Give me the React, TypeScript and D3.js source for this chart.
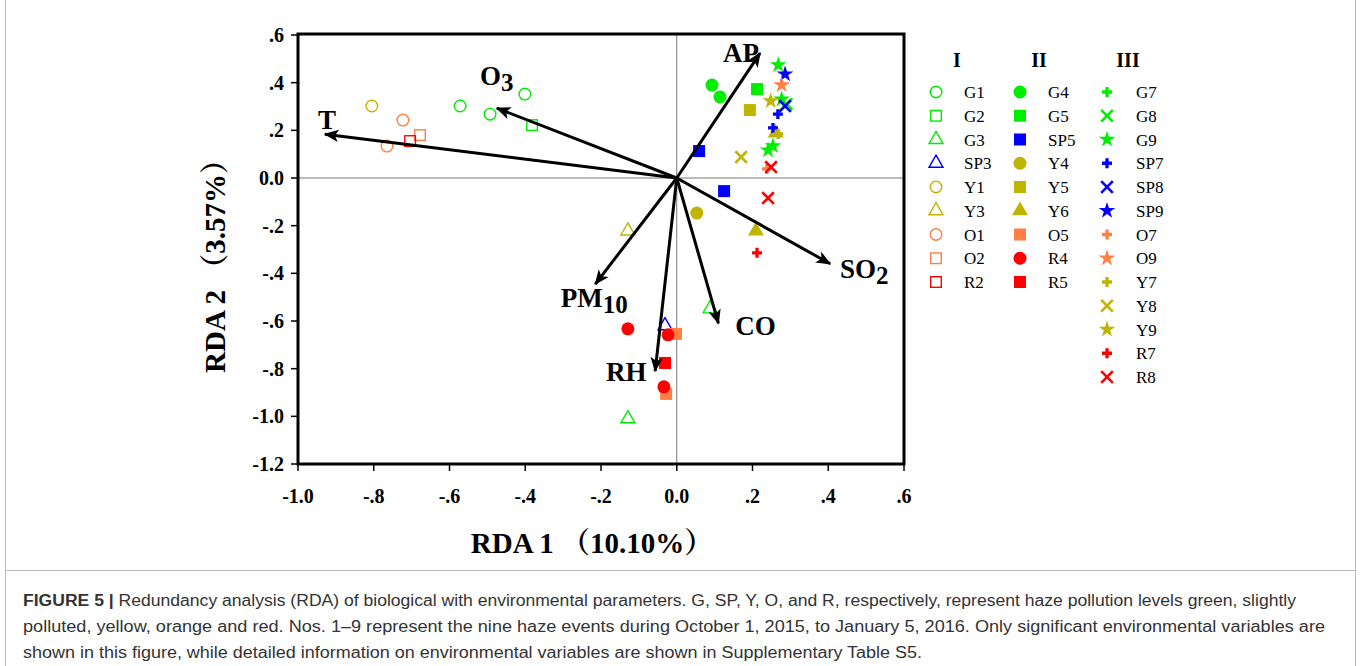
import React from "react";
import * as d3 from "d3";

// ---------- Data ----------
const xTicks = [-1.0, -0.8, -0.6, -0.4, -0.2, 0.0, 0.2, 0.4, 0.6];
const yTicks = [0.6, 0.4, 0.2, 0.0, -0.2, -0.4, -0.6, -0.8, -1.0, -1.2];
const xTickLabels = ["-1.0", "-.8", "-.6", "-.4", "-.2", "0.0", ".2", ".4", ".6"];
const yTickLabels = [".6", ".4", ".2", "0.0", "-.2", "-.4", "-.6", "-.8", "-1.0", "-1.2"];

// Environmental vectors (RDA1, RDA2)
const envNames = ["AP", "O3", "T", "SO2", "PM10", "CO", "RH"];
const envX = [0.22, -0.475, -0.929, 0.405, -0.215, 0.11, -0.057];
const envY = [0.524, 0.293, 0.184, -0.36, -0.445, -0.61, -0.81];

// Sample scores
const G1 = [[-0.572, 0.302], [-0.493, 0.268], [-0.401, 0.352]];
const G2 = [[-0.382, 0.222]];
const G3 = [[-0.129, -1.01], [0.088, -0.549]];
const SP3 = [[-0.031, -0.62]];
const Y1 = [[-0.805, 0.302]];
const Y3 = [[-0.129, -0.222]];
const O1 = [[-0.723, 0.243], [-0.765, 0.134]];
const O2 = [[-0.678, 0.18]];
const R2 = [[-0.704, 0.155]];
const G4 = [[0.093, 0.39], [0.114, 0.34]];
const G5 = [[0.212, 0.373]];
const SP5 = [[0.059, 0.113], [0.125, -0.055]];
const Y4 = [[0.053, -0.147]];
const Y5 = [[0.193, 0.285]];
const Y6 = [[0.209, -0.222], [0.261, 0.189]];
const O5 = [[-0.002, -0.654], [-0.028, -0.906]];
const R4 = [[-0.129, -0.633], [-0.023, -0.658], [-0.034, -0.876]];
const R5 = [[-0.031, -0.776]];
const G7 = [] as number[][];
const G8 = [[0.29, 0.31]];
const G9 = [[0.268, 0.474], [0.277, 0.331], [0.254, 0.134], [0.241, 0.117]];
const SP7 = [[0.267, 0.268], [0.254, 0.21]];
const SP8 = [[0.286, 0.302]];
const SP9 = [[0.286, 0.436]];
const O7 = [[0.238, 0.038]];
const O9 = [[0.277, 0.39]];
const Y7 = [[0.268, 0.185]];
const Y8 = [[0.17, 0.088]];
const Y9 = [[0.248, 0.323]];
const R7 = [[0.212, -0.314]];
const R8 = [[0.249, 0.046], [0.241, -0.084]];

const groupHeaders = ["I", "II", "III"];
const groupI = ["G1", "G2", "G3", "SP3", "Y1", "Y3", "O1", "O2", "R2"];
const groupII = ["G4", "G5", "SP5", "Y4", "Y5", "Y6", "O5", "R4", "R5"];
const groupIII = ["G7", "G8", "G9", "SP7", "SP8", "SP9", "O7", "O9", "Y7", "Y8", "Y9", "R7", "R8"];

const samplePoints: Record<string, number[][]> = {
  G1, G2, G3, SP3, Y1, Y3, O1, O2, R2, G4, G5, SP5, Y4, Y5, Y6, O5, R4, R5,
  G7, G8, G9, SP7, SP8, SP9, O7, O9, Y7, Y8, Y9, R7, R8,
};

const captionLines = [
  "Redundancy analysis (RDA) of biological with environmental parameters. G, SP, Y, O, and R, respectively, represent haze pollution levels green, slightly",
  "polluted, yellow, orange and red. Nos. 1–9 represent the nine haze events during October 1, 2015, to January 5, 2016. Only significant environmental variables are",
  "shown in this figure, while detailed information on environmental variables are shown in Supplementary Table S5.",
];

// ---------- Styles ----------
const COLORS: Record<string, string> = {
  G: "#00ee00",
  SP: "#0000ff",
  Y: "#bfb400",
  O: "#ff7f45",
  R: "#ff0000",
};
const colorOf = (name: string) => COLORS[name.replace(/[0-9]/g, "")];
const shapeOf = (name: string): [string, boolean] => {
  if (groupI.includes(name)) {
    const i = groupI.indexOf(name);
    const s = ["circle", "square", "triangle", "triangle", "circle", "triangle", "circle", "square", "square"][i];
    return [s, false];
  }
  if (groupII.includes(name)) {
    const i = groupII.indexOf(name);
    const s = ["circle", "square", "square", "circle", "square", "triangle", "square", "circle", "square"][i];
    return [s, true];
  }
  const i = groupIII.indexOf(name);
  const s = ["plus", "x", "star", "plus", "x", "star", "plus", "star", "plus", "x", "star", "plus", "x"][i];
  return [s, true];
};

const SERIF = "'Liberation Serif', 'Times New Roman', 'Noto Serif CJK SC', 'Noto Sans CJK SC', serif";
const SANS = "'Liberation Sans', Arial, Helvetica, sans-serif";

function Marker({ shape, filled, color, x, y }: { shape: string; filled: boolean; color: string; x: number; y: number }) {
  const t = `translate(${x},${y})`;
  if (shape === "circle") {
    return filled ? (
      <circle cx={x} cy={y} r={6.5} fill={color} />
    ) : (
      <circle cx={x} cy={y} r={5.8} fill="none" stroke={color} strokeWidth={1.4} />
    );
  }
  if (shape === "square") {
    return filled ? (
      <rect x={x - 6} y={y - 6} width={12} height={12} fill={color} />
    ) : (
      <rect x={x - 5.3} y={y - 5.3} width={10.6} height={10.6} fill="none" stroke={color} strokeWidth={1.4} />
    );
  }
  if (shape === "triangle") {
    const p = d3.symbol().type(d3.symbolTriangle).size(filled ? 110 : 85)()!;
    return filled ? (
      <path d={p} transform={t} fill={color} />
    ) : (
      <path d={p} transform={t} fill="none" stroke={color} strokeWidth={1.4} />
    );
  }
  if (shape === "star") {
    const p = d3.symbol().type(d3.symbolStar).size(85)()!;
    return <path d={p} transform={t} fill={color} />;
  }
  if (shape === "plus") {
    const p = d3.symbol().type(d3.symbolCross).size(55)()!;
    return <path d={p} transform={t} fill={color} />;
  }
  // x
  const h = 5.8;
  return (
    <g stroke={color} strokeWidth={2.6}>
      <line x1={x - h} y1={y - h} x2={x + h} y2={y + h} />
      <line x1={x - h} y1={y + h} x2={x + h} y2={y - h} />
    </g>
  );
}

export default function App() {
  const W = 1360, H = 666;
  const left = 298, right = 904, top = 35, bottom = 464;
  const x = d3.scaleLinear().domain([-1.0, 0.6]).range([left, right]);
  const y = d3.scaleLinear().domain([-1.2, 0.6]).range([bottom, top]);

  const labelOffsets: Record<string, [number, number]> = {
    AP: [-19, 9],
    O3: [0, -23],
    T: [2, -5],
    SO2: [34, 14],
    PM10: [-1, 23],
    CO: [37, 12],
    RH: [-29, 10],
  };

  const renderEnvLabel = (name: string) => {
    const m = name.match(/^([A-Z]+)(\d*)$/)!;
    return (
      <>
        {m[1]}
        {m[2] && (
          <tspan fontSize={25} dy={6}>
            {m[2]}
          </tspan>
        )}
      </>
    );
  };

  const legendCols = [groupI, groupII, groupIII];
  const colSymX = [936, 1020, 1107];
  const colTextX = [964, 1048, 1136];
  const headerX = [957, 1039, 1128];
  const rowY0 = 92, rowDy = 23.75;

  return (
    <div style={{ position: "absolute", left: 0, top: 0, width: W, height: H, background: "#fff" }}>
      <svg width={W} height={H} viewBox={`0 0 ${W} ${H}`} style={{ display: "block" }}>
        <rect x={0} y={0} width={W} height={H} fill="#fff" />
        {/* figure borders */}
        <line x1={5.5} y1={0} x2={5.5} y2={H} stroke="#bbb" strokeWidth={1} />
        <line x1={1355.5} y1={0} x2={1355.5} y2={H} stroke="#bbb" strokeWidth={1} />
        <line x1={5.5} y1={570.5} x2={1355.5} y2={570.5} stroke="#bbb" strokeWidth={1} />

        <defs>
          <marker id="arr" viewBox="0 0 12 10" refX={11} refY={5} markerWidth={5} markerHeight={4.5} orient="auto" markerUnits="strokeWidth">
            <path d="M0,0 L12,5 L0,10 L3,5 Z" fill="#000" />
          </marker>
        </defs>

        {/* zero lines */}
        <line x1={left} x2={right} y1={y(0)} y2={y(0)} stroke="#777" strokeWidth={1} />
        <line x1={x(0)} x2={x(0)} y1={top} y2={bottom} stroke="#777" strokeWidth={1} />

        {/* frame */}
        <rect x={left} y={top - 1} width={right - left} height={bottom - top + 1} fill="none" stroke="#000" strokeWidth={3} />

        {/* ticks */}
        {xTicks.map((t, i) => (
          <g key={"xt" + i}>
            <line x1={x(t)} x2={x(t)} y1={bottom} y2={bottom + 7} stroke="#000" strokeWidth={1.5} />
            <text x={x(t)} y={503} textAnchor="middle" fontFamily={SERIF} fontWeight="bold" fontSize={20} fill="#000">
              {xTickLabels[i]}
            </text>
          </g>
        ))}
        {yTicks.map((t, i) => (
          <g key={"yt" + i}>
            <line x1={left - 7} x2={left} y1={y(t)} y2={y(t)} stroke="#000" strokeWidth={1.5} />
            <text x={284} y={y(t) + 7} textAnchor="end" fontFamily={SERIF} fontWeight="bold" fontSize={20} fill="#000">
              {yTickLabels[i]}
            </text>
          </g>
        ))}

        {/* axis titles */}
        <text x={592} y={553} textAnchor="middle" fontFamily={SERIF} fontWeight="bold" fontSize={29} fill="#000">
          RDA 1 （10.10%）
        </text>
        <text transform={`translate(225,259) rotate(-90)`} textAnchor="middle" fontFamily={SERIF} fontWeight="bold" fontSize={29} fill="#000">
          RDA 2 （3.57%）
        </text>

        {/* samples */}
        {Object.keys(samplePoints).map((name) => {
          const [shape, filled] = shapeOf(name);
          return samplePoints[name].map((p, j) => (
            <Marker key={name + j} shape={shape} filled={filled} color={colorOf(name)} x={x(p[0])} y={y(p[1])} />
          ));
        })}

        {/* arrows */}
        {envNames.map((n, i) => (
          <line key={"ar" + n} x1={x(0)} y1={y(0)} x2={x(envX[i])} y2={y(envY[i])} stroke="#000" strokeWidth={3} markerEnd="url(#arr)" />
        ))}
        {envNames.map((n, i) => (
          <text
            key={"al" + n}
            x={x(envX[i]) + labelOffsets[n][0]}
            y={y(envY[i]) + labelOffsets[n][1]}
            textAnchor="middle"
            fontFamily={SERIF}
            fontWeight="bold"
            fontSize={27}
            fill="#000"
          >
            {renderEnvLabel(n)}
          </text>
        ))}

        {/* legend */}
        {groupHeaders.map((h, c) => (
          <text key={"h" + h} x={headerX[c]} y={67} textAnchor="middle" fontFamily={SERIF} fontWeight="bold" fontSize={20} fill="#000">
            {h}
          </text>
        ))}
        {legendCols.map((col, c) =>
          col.map((name, r) => {
            const [shape, filled] = shapeOf(name);
            const cy = rowY0 + r * rowDy;
            return (
              <g key={"lg" + name}>
                <Marker shape={shape} filled={filled} color={colorOf(name)} x={colSymX[c]} y={cy} />
                <text x={colTextX[c]} y={cy + 6} fontFamily={SERIF} fontSize={17} fill="#000">
                  {name}
                </text>
              </g>
            );
          })
        )}

        {/* caption */}
        <text x={23} y={606} fontFamily={SANS} fontSize={16} fill="#333" textLength={1273} lengthAdjust="spacingAndGlyphs">
          <tspan fontWeight="bold">FIGURE 5 | </tspan>
          {captionLines[0]}
        </text>
        <text x={23} y={632} fontFamily={SANS} fontSize={16} fill="#333" textLength={1302} lengthAdjust="spacingAndGlyphs">
          {captionLines[1]}
        </text>
        <text x={23} y={658} fontFamily={SANS} fontSize={16} fill="#333" textLength={899} lengthAdjust="spacingAndGlyphs">
          {captionLines[2]}
        </text>
      </svg>
    </div>
  );
}
